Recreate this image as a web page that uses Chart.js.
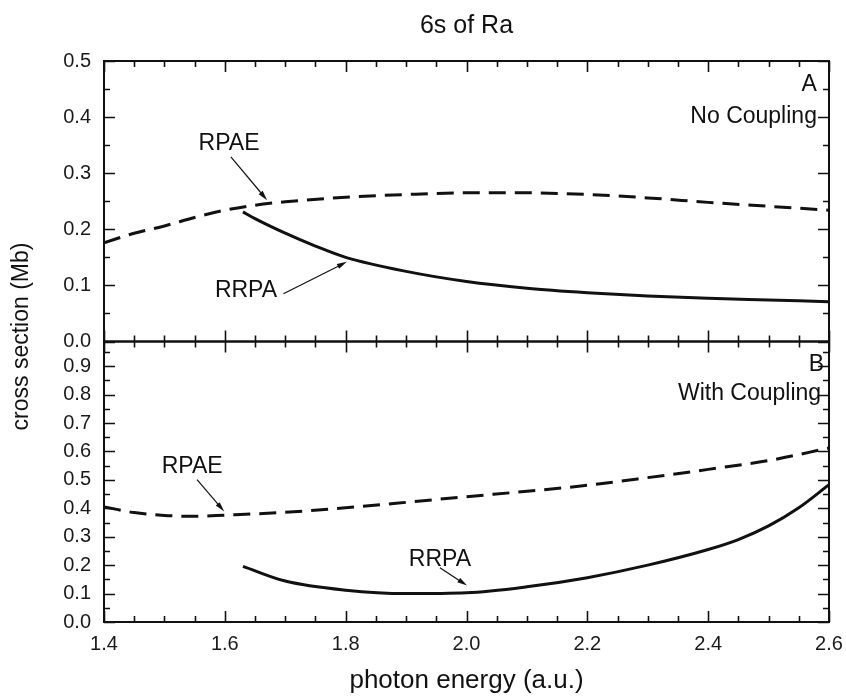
<!DOCTYPE html>
<html>
<head>
<meta charset="utf-8">
<title>6s of Ra</title>
<script src="https://cdn.jsdelivr.net/npm/chart.js@4.4.1/dist/chart.umd.min.js"></script>
<style>
  html, body { margin: 0; padding: 0; background: #fff; }
  canvas { display: block; }
</style>
</head>
<body>
<canvas id="myChart" width="846" height="697"></canvas>
<script>
// photon energy (a.u.) and cross section (Mb)
// panel A: no coupling
const noCoupRpaeX = [1.4, 1.45, 1.5, 1.55, 1.6, 1.65, 1.7, 1.8, 1.9, 2.0, 2.1, 2.2, 2.3, 2.4, 2.5, 2.6];
const noCoupRpaeY = [0.176, 0.193, 0.206, 0.221, 0.234, 0.243, 0.249, 0.257, 0.262, 0.265, 0.265, 0.262, 0.256, 0.248, 0.241, 0.234];
const noCoupRrpaX = [1.63, 1.65, 1.7, 1.75, 1.8, 1.9, 2.0, 2.1, 2.2, 2.3, 2.4, 2.5, 2.6];
const noCoupRrpaY = [0.231, 0.219, 0.193, 0.170, 0.150, 0.125, 0.107, 0.095, 0.087, 0.081, 0.077, 0.074, 0.071];
// panel B: with coupling
const withCoupRpaeX = [1.4, 1.45, 1.5, 1.55, 1.6, 1.7, 1.8, 1.9, 2.0, 2.1, 2.2, 2.3, 2.4, 2.5, 2.6];
const withCoupRpaeY = [0.405, 0.385, 0.375, 0.372, 0.376, 0.386, 0.402, 0.421, 0.441, 0.460, 0.481, 0.508, 0.537, 0.568, 0.612];
const withCoupRrpaX = [1.63, 1.7, 1.8, 1.9, 2.0, 2.1, 2.2, 2.3, 2.4, 2.45, 2.5, 2.55, 2.6];
const withCoupRrpaY = [0.196, 0.144, 0.112, 0.100, 0.103, 0.124, 0.156, 0.200, 0.255, 0.290, 0.338, 0.402, 0.483];

const energyTicks = [1.4, 1.6, 1.8, 2.0, 2.2, 2.4, 2.6];
const topTicks = [0.0, 0.1, 0.2, 0.3, 0.4, 0.5];
const bottomTicks = [0.0, 0.1, 0.2, 0.3, 0.4, 0.5, 0.6, 0.7, 0.8, 0.9];

const FONT = "'Liberation Sans', Arial, sans-serif";
const INK = '#111';

function pts(xs, ys) {
    return xs.map((x, i) => ({ x: x, y: ys[i] }));
}

// labels and arrows, given in data units of each panel
const notes = [
    { axis: 'yTop', text: 'RPAE', x: 1.607, y: 0.352, align: 'center', arrow: [1.610, 0.329, 1.670, 0.252] },
    { axis: 'yTop', text: 'RRPA', x: 1.635, y: 0.090, align: 'center', arrow: [1.697, 0.085, 1.802, 0.142] },
    { axis: 'yTop', text: 'A', x: 2.580, y: 0.458, align: 'right' },
    { axis: 'yTop', text: 'No Coupling', x: 2.580, y: 0.400, align: 'right' },
    { axis: 'yBot', text: 'RPAE', x: 1.546, y: 0.547, align: 'center', arrow: [1.554, 0.501, 1.599, 0.389] },
    { axis: 'yBot', text: 'RRPA', x: 1.956, y: 0.219, align: 'center', arrow: [1.956, 0.191, 2.001, 0.128] },
    { axis: 'yBot', text: 'B', x: 2.592, y: 0.906, align: 'right' },
    { axis: 'yBot', text: 'With Coupling', x: 2.587, y: 0.804, align: 'right' }
];

function minorsOf(majors, max) {
    const step = majors[1] - majors[0];
    const out = [];
    majors.forEach(v => { if (v + step / 2 <= max + 1e-9) out.push(v + step / 2); });
    return out;
}

function drawArrow(ctx, x0, y0, x1, y1) {
    const ang = Math.atan2(y1 - y0, x1 - x0);
    const len = 10, half = 2.6;
    ctx.lineWidth = 1.2;
    ctx.beginPath();
    ctx.moveTo(x0, y0);
    ctx.lineTo(x1 - Math.cos(ang) * len * 0.8, y1 - Math.sin(ang) * len * 0.8);
    ctx.stroke();
    ctx.beginPath();
    ctx.moveTo(x1, y1);
    ctx.lineTo(x1 - Math.cos(ang) * len + Math.sin(ang) * half, y1 - Math.sin(ang) * len - Math.cos(ang) * half);
    ctx.lineTo(x1 - Math.cos(ang) * len - Math.sin(ang) * half, y1 - Math.sin(ang) * len + Math.cos(ang) * half);
    ctx.closePath();
    ctx.fill();
}

// boxes with inward ticks on all four sides, plus the text labels
const framePlugin = {
    id: 'frame',
    afterDraw(chart) {
        const ctx = chart.ctx;
        const area = chart.chartArea;
        const xs = chart.scales.x;
        ctx.save();
        ctx.strokeStyle = INK;
        ctx.fillStyle = INK;

        // major every 0.2, minor every 0.05
        const xAll = energyTicks.map(v => [v, 11]);
        energyTicks.forEach(v => {
            [0.05, 0.1, 0.15].forEach(d => { if (v + d < 2.6) xAll.push([v + d, 6]); });
        });

        [['yTop', topTicks], ['yBot', bottomTicks]].forEach(([id, majors]) => {
            const ys = chart.scales[id];
            const top = ys.top, bottom = ys.bottom;
            ctx.lineWidth = 1.6;
            xAll.forEach(([v, len]) => {
                const px = Math.round(xs.getPixelForValue(v)) + 0.5;
                ctx.beginPath();
                ctx.moveTo(px, bottom); ctx.lineTo(px, bottom - len);
                ctx.moveTo(px, top); ctx.lineTo(px, top + len);
                ctx.stroke();
            });
            const yAll = majors.map(v => [v, 11]).concat(minorsOf(majors, ys.max).map(v => [v, 6]));
            yAll.forEach(([v, len]) => {
                const py = Math.round(ys.getPixelForValue(v)) + 0.5;
                ctx.beginPath();
                ctx.moveTo(area.left, py); ctx.lineTo(area.left + len, py);
                ctx.moveTo(area.right, py); ctx.lineTo(area.right - len, py);
                ctx.stroke();
            });
            ctx.lineWidth = 2;
            ctx.strokeRect(area.left, top, area.right - area.left, bottom - top);
        });

        // panel labels and arrows
        ctx.font = '23px ' + FONT;
        ctx.textBaseline = 'middle';
        notes.forEach(n => {
            const ys = chart.scales[n.axis];
            ctx.textAlign = n.align;
            ctx.fillText(n.text, xs.getPixelForValue(n.x), ys.getPixelForValue(n.y));
            if (n.arrow) {
                const a = n.arrow;
                drawArrow(ctx, xs.getPixelForValue(a[0]), ys.getPixelForValue(a[1]),
                    xs.getPixelForValue(a[2]), ys.getPixelForValue(a[3]));
            }
        });

        // shared y title across both panels
        ctx.font = '23px ' + FONT;
        ctx.textAlign = 'center';
        ctx.translate(22, (area.top + area.bottom) / 2 - 5);
        ctx.rotate(-Math.PI / 2);
        ctx.fillText('cross section (Mb)', 0, 0);
        ctx.restore();
    }
};

const solid = { borderColor: INK, borderWidth: 3, pointRadius: 0, fill: false, cubicInterpolationMode: 'monotone' };
const dashed = Object.assign({}, solid, { borderDash: [17, 9] });

const data = {
    datasets: [
        Object.assign({ label: 'RPAE (no coupling)', data: pts(noCoupRpaeX, noCoupRpaeY), yAxisID: 'yTop' }, dashed),
        Object.assign({ label: 'RRPA (no coupling)', data: pts(noCoupRrpaX, noCoupRrpaY), yAxisID: 'yTop' }, solid),
        Object.assign({ label: 'RPAE (with coupling)', data: pts(withCoupRpaeX, withCoupRpaeY), yAxisID: 'yBot' }, dashed),
        Object.assign({ label: 'RRPA (with coupling)', data: pts(withCoupRrpaX, withCoupRrpaY), yAxisID: 'yBot' }, solid)
    ]
};

function yScale(max, majors) {
    return {
        type: 'linear',
        position: 'left',
        stack: 'panels',
        stackWeight: 1,
        min: 0,
        max: max,
        grid: { display: false },
        border: { display: false },
        afterBuildTicks: s => { s.ticks = majors.map(v => ({ value: v })); },
        afterFit: s => { s.width = 104; },
        ticks: {
            color: '#1a1a1a',
            padding: 5,
            autoSkip: false,
            font: { size: 20 },
            callback: v => v.toFixed(1)
        }
    };
}

const config = {
    type: 'line',
    data: data,
    options: {
        responsive: false,
        animation: false,
        layout: { padding: { left: 0, right: 17, top: 0, bottom: 0 } },
        plugins: {
            legend: { display: false },
            tooltip: { enabled: false },
            title: {
                display: true,
                text: '6s of Ra',
                color: INK,
                fullSize: false,
                font: { size: 25, weight: 'normal' },
                padding: { top: 11, bottom: 20 }
            }
        },
        scales: {
            x: {
                type: 'linear',
                min: 1.4,
                max: 2.6,
                grid: { display: false },
                border: { display: false },
                afterBuildTicks: s => { s.ticks = energyTicks.map(v => ({ value: v })); },
                afterFit: s => { s.height = 75; },
                ticks: {
                    color: '#1a1a1a',
                    padding: 2,
                    maxRotation: 0,
                    font: { size: 20 },
                    callback: v => v.toFixed(1)
                },
                title: {
                    display: true,
                    text: 'photon energy (a.u.)',
                    color: INK,
                    font: { size: 26 },
                    padding: { top: 0, bottom: 1 }
                }
            },
            // stacked panels: listed bottom first so that A ends up on top
            yBot: yScale(0.987, bottomTicks),
            yTop: yScale(0.5, topTicks)
        }
    },
    plugins: [framePlugin]
};

Chart.defaults.font.family = FONT;

var myChart = new Chart(
    document.getElementById('myChart'),
    config
);
</script>
</body>
</html>
